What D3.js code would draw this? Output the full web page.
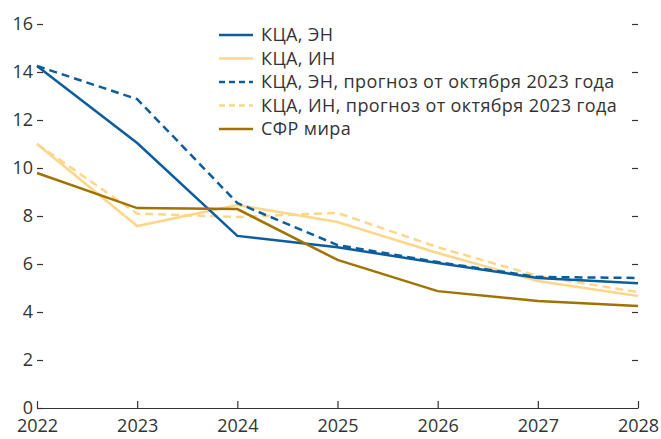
<!DOCTYPE html>
<html>
<head>
<meta charset="utf-8">
<script src="https://cdn.jsdelivr.net/npm/d3@7"></script>
<style>
html,body{margin:0;padding:0;background:#fff;}
svg{display:block;}
text{font-family:"Open Sans",sans-serif;fill:#333;}
</style>
</head>
<body>
<svg id="chart" width="661" height="439"></svg>
<script>
const years = [2022, 2023, 2024, 2025, 2026, 2027, 2028];
const yTicks = [0, 2, 4, 6, 8, 10, 12, 14, 16];
const cpaEN = [14.25, 11.04, 7.17, 6.7, 6.04, 5.42, 5.2];
const cpaIN = [11.0, 7.58, 8.46, 7.75, 6.46, 5.29, 4.67];
const cpaENoct = [14.25, 12.87, 8.54, 6.79, 6.08, 5.46, 5.42];
const cpaINoct = [11.0, 8.1, 7.96, 8.13, 6.7, 5.5, 4.83];
const worldRate = [9.79, 8.33, 8.29, 6.17, 4.87, 4.46, 4.25];
const seriesNames = ["КЦА, ЭН", "КЦА, ИН", "КЦА, ЭН, прогноз от октября 2023 года", "КЦА, ИН, прогноз от октября 2023 года", "СФР мира"];

const blue = "#0b5d9c", yellow = "#fdd68a", brown = "#a07300";
const series = [
  {name: seriesNames[0], values: cpaEN, color: blue, dash: null},
  {name: seriesNames[1], values: cpaIN, color: yellow, dash: null},
  {name: seriesNames[2], values: cpaENoct, color: blue, dash: "8,5"},
  {name: seriesNames[3], values: cpaINoct, color: yellow, dash: "8,5"},
  {name: seriesNames[4], values: worldRate, color: brown, dash: null}
];

const svg = d3.select("#chart");
const mLeft = 37, mRight = 638, mTop = 24, mBottom = 408;
const x = d3.scaleLinear().domain([2022, 2028]).range([mLeft, mRight]);
const y = d3.scaleLinear().domain([0, 16]).range([mBottom, mTop]);

// x axis
const xAxis = svg.append("g").attr("transform", `translate(0,${mBottom})`)
  .call(d3.axisBottom(x).tickValues(years).tickFormat(d3.format("d")).tickSizeInner(-7).tickSizeOuter(0).tickPadding(11));
xAxis.select(".domain").attr("stroke", "#333").attr("stroke-width", 1.2);
xAxis.selectAll(".tick line").attr("stroke", "#333").attr("stroke-width", 1.2);
xAxis.selectAll("text").style("font-size", "18px").attr("fill", "#333");

// left y ticks
const yAxisL = svg.append("g").attr("transform", `translate(${mLeft},0)`)
  .call(d3.axisLeft(y).tickValues(yTicks).tickSize(-6).tickPadding(4));
yAxisL.select(".domain").remove();
yAxisL.selectAll(".tick line").attr("stroke", "#333").attr("stroke-width", 1.2);
yAxisL.selectAll("text").style("font-size", "18px").attr("fill", "#333");

// right y ticks
const yAxisR = svg.append("g").attr("transform", `translate(${mRight},0)`)
  .call(d3.axisRight(y).tickValues(yTicks.filter(d => d > 0)).tickSize(-6).tickFormat(""));
yAxisR.select(".domain").remove();
yAxisR.selectAll(".tick line").attr("stroke", "#333").attr("stroke-width", 1.2);

const line = d3.line().x((d, i) => x(years[i])).y(d => y(d));
const drawOrder = [1, 3, 0, 2, 4];
drawOrder.forEach(k => {
  const s = series[k];
  svg.append("path").datum(s.values)
    .attr("d", line)
    .attr("fill", "none")
    .attr("stroke", s.color)
    .attr("stroke-width", 2.5)
    .attr("stroke-dasharray", s.dash);
});

// legend
const lg = svg.append("g");
series.forEach((s, i) => {
  const yy = 35 + i * 23.5;
  lg.append("line").attr("x1", 219).attr("x2", 253).attr("y1", yy).attr("y2", yy)
    .attr("stroke", s.color).attr("stroke-width", 2.5).attr("stroke-dasharray", s.dash ? "6,4" : null);
  lg.append("text").attr("x", 261).attr("y", yy).attr("dy", "0.35em")
    .style("font-size", "18px").style("letter-spacing", "0.4px").text(s.name);
});
</script>
</body>
</html>
